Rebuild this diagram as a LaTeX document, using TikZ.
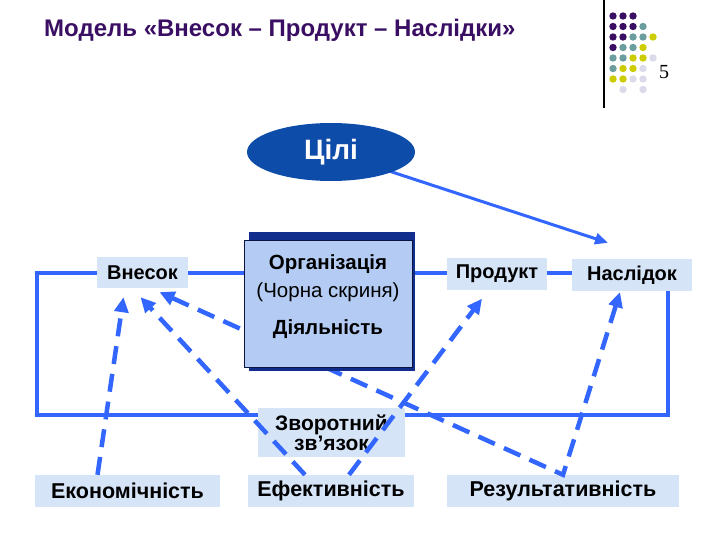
\documentclass[tikz,border=0pt]{standalone}
\usepackage{fontspec}
\setmainfont{Liberation Sans}
\newfontfamily\numfont{Liberation Serif}
\usetikzlibrary{arrows.meta,shapes.geometric}

\definecolor{linkblue}{RGB}{51,102,255}
\definecolor{boxblue}{RGB}{214,228,248}
\definecolor{orgfill}{RGB}{180,204,244}
\definecolor{orgback}{RGB}{18,46,140}
\definecolor{orgedge}{RGB}{12,20,70}
\definecolor{goalblue}{RGB}{14,76,170}
\definecolor{titlepurple}{RGB}{58,15,99}
\definecolor{dotP}{RGB}{58,15,99}
\definecolor{dotT}{RGB}{107,156,158}
\definecolor{dotY}{RGB}{204,204,0}
\definecolor{dotL}{RGB}{218,218,234}

\begin{document}
\begin{tikzpicture}[x=1pt,y=-1pt,
    labelbox/.style={fill=boxblue, inner sep=0pt, font=\bfseries\fontsize{20}{22}\selectfont},
    critbox/.style={labelbox, minimum height=32pt, font=\bfseries\fontsize{21.5}{24}\selectfont},
    loopline/.style={draw=linkblue, line width=4.5pt},
    dasharrow/.style={draw=linkblue, line width=4.5pt, dash pattern=on 18pt off 10pt,
        -{Triangle[length=15pt,width=14pt]}},
    goalarrow/.style={draw=linkblue, line width=3pt, -{Triangle[length=13pt,width=11pt]}}]
    \useasboundingbox (0,0) rectangle (720,540);

    % заголовок
    \node[anchor=base west, inner sep=0pt, text=titlepurple, font=\bfseries\fontsize{24}{26}\selectfont]
        (title) at (44,37) {Модель «Внесок – Продукт – Наслідки»};

    % номер слайда і крапки
    \draw[line width=1.2pt] (604,0) -- (604,108);
    \foreach \c/\r/\col in {1/1/dotP,2/1/dotP,3/1/dotP,
        1/2/dotP,2/2/dotP,3/2/dotP,4/2/dotT,
        1/3/dotP,2/3/dotP,3/3/dotT,4/3/dotT,5/3/dotY,
        1/4/dotP,2/4/dotT,3/4/dotT,4/4/dotY,
        1/5/dotT,2/5/dotT,3/5/dotY,4/5/dotY,5/5/dotL,
        1/6/dotT,2/6/dotY,3/6/dotY,4/6/dotL,
        1/7/dotY,2/7/dotY,3/7/dotL,4/7/dotL,
        2/8/dotL,4/8/dotL}
        \fill[\col] (603+10*\c, 5.5+10.5*\r) circle (3.7pt);
    \node[anchor=base, font=\numfont\fontsize{20}{20}\selectfont] (pagenum) at (664,79) {5};

    % контур зворотного зв'язку
    \coordinate (fbNW) at (37,273);
    \coordinate (fbSE) at (668,415);
    \draw[loopline] (fbNW) rectangle (fbSE);

    % блоки
    \node[labelbox, minimum width=91pt, minimum height=31pt] (vnesok) at (142.5,272.5) {Внесок};
    \node[labelbox, minimum width=100pt, minimum height=32pt] (produkt) at (497,273.5) {Продукт};
    \node[labelbox, minimum width=120pt, minimum height=32pt] (naslidok) at (632,275) {Наслідок};
    \node[labelbox, minimum width=147pt, minimum height=49pt, align=center,
        font=\bfseries\fontsize{21}{16}\selectfont] (zvorot) at (331.5,432.5) {Зворотний\\зв’язок};

    % критерії
    \node[critbox, minimum width=185pt] (econ) at (127.5,491) {Економічність};
    \node[critbox, minimum width=166pt] (eff) at (331,491) {Ефективність};
    \node[critbox, minimum width=232pt] (result) at (563,491) {Результативність};

    % пунктирні стрілки
    \draw[dasharrow] ([xshift=-30pt]econ.north) -- ([xshift=-19pt,yshift=-9pt]vnesok.south);
    \draw[dasharrow] ([xshift=-26pt]eff.north) -- ([xshift=-2pt,yshift=-9pt]vnesok.south);
    \draw[dasharrow] ([xshift=18pt]eff.north) -- ([xshift=-15pt,yshift=-9pt]produkt.south);
    \draw[dasharrow, {Triangle[length=15pt,width=14pt]}-{Triangle[length=15pt,width=14pt]}]
        ([xshift=17pt,yshift=-4pt]vnesok.south) -- (result.north)
        -- ([xshift=-12pt,yshift=-1pt]naslidok.south);

    % чорна скриня
    \fill[orgback] (249,232) rectangle (415,371);
    \node[fill=orgfill, draw=orgedge, line width=1pt, minimum width=168pt, minimum height=127pt,
        inner sep=0pt, align=center, font=\fontsize{20.5}{28}\selectfont]
        (org) at (328,303.5) {\textbf{Організація}\\(Чорна скриня)\\[9pt]\textbf{Діяльність}\\[-10pt]\mbox{}};

    % цілі
    \draw[goalarrow] (331,152) -- ([xshift=-24pt,yshift=16pt]naslidok.north);
    \node[ellipse, fill=goalblue, minimum width=168pt, minimum height=58pt, inner sep=0pt,
        text=white, font=\bfseries\fontsize{28}{30}\selectfont] (tsili) at (331,152) {Цілі};
\end{tikzpicture}
\end{document}
